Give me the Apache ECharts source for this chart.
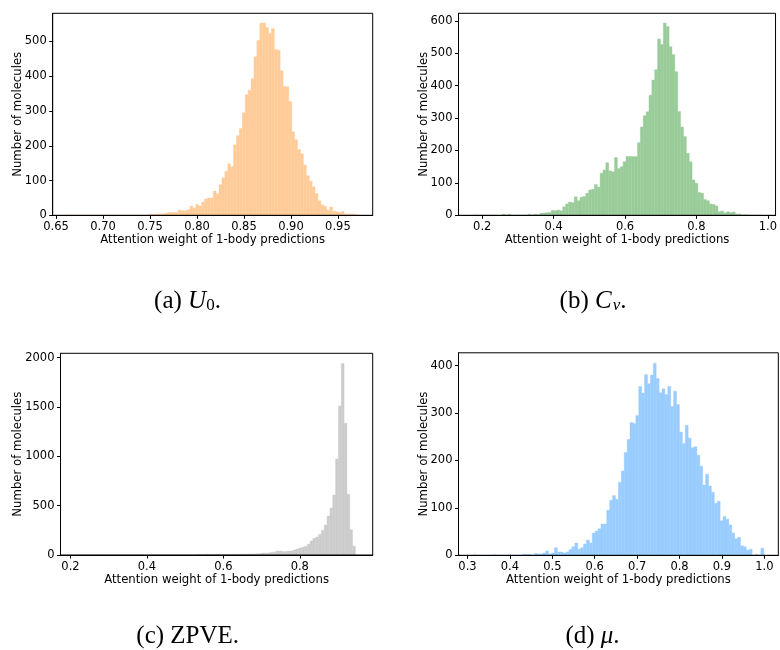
<!DOCTYPE html>
<html>
<head>
<meta charset="utf-8">
<script src="https://cdn.jsdelivr.net/npm/echarts@6/dist/echarts.min.js"></script>
<style>
  html, body { margin: 0; padding: 0; background: #fff; }
  #chart { width: 780px; height: 650px; }
</style>
</head>
<body>
<div id="chart"></div>
<script>
// Histogram counts (100 equal-width bins per panel) of the attention weight
// given to the 1-body predictions, one panel per target property.

// (a) U0
const binStartU0 = 0.6625;
const binWidthU0 = 0.003096;
const countsU0 = [
  1, 0, 0, 0, 0, 0, 0, 0, 0, 0,
  0, 0, 1, 0, 0, 0, 0, 0, 0, 0,
  1, 0, 0, 0, 0, 1, 0, 0, 3, 3,
  4, 4, 4, 5, 7, 8, 8, 9, 15, 13,
  13, 16, 27, 21, 31, 27, 38, 47, 50, 50,
  70, 62, 88, 108, 126, 148, 140, 203, 229, 250,
  295, 347, 360, 393, 456, 503, 553, 553, 540, 523,
  537, 477, 475, 416, 370, 370, 327, 240, 217, 189,
  177, 145, 114, 98, 82, 63, 42, 30, 25, 15,
  24, 12, 10, 8, 11, 4, 4, 4, 3, 1
];

// (b) Cv
const binStartCv = 0.176;
const binWidthCv = 0.00805;
const countsCv = [
  1, 0, 0, 0, 0, 0, 0, 0, 0, 0,
  3, 0, 3, 0, 0, 1, 0, 0, 1, 3,
  1, 3, 2, 6, 7, 8, 9, 15, 14, 16,
  14, 26, 35, 41, 39, 57, 45, 56, 58, 68,
  78, 80, 95, 87, 130, 140, 162, 137, 134, 178,
  144, 150, 165, 181, 181, 181, 181, 224, 272, 307,
  319, 370, 417, 449, 544, 527, 593, 582, 520, 496,
  443, 320, 272, 243, 191, 165, 109, 99, 70, 68,
  49, 45, 35, 33, 29, 11, 13, 7, 11, 9,
  10, 4, 4, 1, 2, 1, 0, 0, 0, 1
];

// (c) ZPVE
const binStartZPVE = 0.2104;
const binWidthZPVE = 0.007427;
const countsZPVE = [
  1, 0, 0, 0, 0, 0, 0, 0, 0, 0,
  0, 0, 0, 0, 0, 0, 0, 0, 0, 0,
  0, 0, 1, 0, 0, 0, 1, 0, 0, 0,
  1, 0, 0, 1, 0, 0, 1, 0, 2, 0,
  1, 2, 1, 6, 5, 3, 7, 6, 7, 6,
  7, 4, 8, 7, 8, 7, 8, 8, 10, 10,
  9, 10, 11, 10, 13, 14, 20, 19, 21, 27,
  29, 40, 40, 35, 36, 40, 41, 50, 60, 71,
  79, 88, 108, 142, 169, 182, 209, 250, 304, 395,
  476, 608, 973, 1510, 1940, 1334, 615, 257, 91, 1
];

// (d) mu
const binStartMu = 0.3131;
const binWidthMu = 0.006855;
const countsMu = [
  1, 0, 0, 0, 0, 0, 0, 1, 0, 0,
  0, 0, 1, 0, 0, 0, 0, 2, 2, 2,
  0, 4, 3, 3, 5, 9, 3, 5, 16, 7,
  7, 5, 7, 12, 18, 26, 13, 16, 24, 32,
  26, 47, 51, 56, 66, 66, 95, 116, 126, 118,
  154, 178, 217, 244, 280, 278, 295, 356, 342, 381,
  362, 380, 405, 373, 343, 351, 339, 356, 314, 346,
  318, 260, 236, 274, 247, 227, 229, 211, 188, 148,
  171, 146, 133, 110, 114, 73, 82, 76, 64, 47,
  35, 38, 20, 18, 11, 13, 0, 2, 0, 15
];

// Tick labels
const xTicksU0 = [0.65, 0.70, 0.75, 0.80, 0.85, 0.90, 0.95];
const yTicksU0 = [0, 100, 200, 300, 400, 500];
const xTicksCv = [0.2, 0.4, 0.6, 0.8, 1.0];
const yTicksCv = [0, 100, 200, 300, 400, 500, 600];
const xTicksZPVE = [0.2, 0.4, 0.6, 0.8];
const yTicksZPVE = [0, 500, 1000, 1500, 2000];
const xTicksMu = [0.3, 0.4, 0.5, 0.6, 0.7, 0.8, 0.9, 1.0];
const yTicksMu = [0, 100, 200, 300, 400];

const xTitle = 'Attention weight of 1-body predictions';
const yTitle = 'Number of molecules';

const FONT = 'DejaVu Sans';
const SERIF = 'Liberation Serif';
const TICK_SIZE = 11.5;

const panels = [
  { counts: countsU0, start: binStartU0, width: binWidthU0, color: '#ffcc99',
    xTicks: xTicksU0, yTicks: yTicksU0, xMin: 0.6465, xMax: 0.987, yMax: 581, digits: 2,
    grid: { left: 52.7, top: 13.3, width: 320, height: 202 }, yNameGap: 29 },
  { counts: countsCv, start: binStartCv, width: binWidthCv, color: '#99cc99',
    xTicks: xTicksCv, yTicks: yTicksCv, xMin: 0.1336, xMax: 1.0215, yMax: 623, digits: 1,
    grid: { left: 458.5, top: 13.3, width: 318.2, height: 202 }, yNameGap: 29 },
  { counts: countsZPVE, start: binStartZPVE, width: binWidthZPVE, color: '#cccccc',
    xTicks: xTicksZPVE, yTicks: yTicksZPVE, xMin: 0.1738, xMax: 0.9908, yMax: 2044, digits: 1,
    grid: { left: 60.5, top: 353.3, width: 312.2, height: 201.7 }, yNameGap: 36.5 },
  { counts: countsMu, start: binStartMu, width: binWidthMu, color: '#99ccff',
    xTicks: xTicksMu, yTicks: yTicksMu, xMin: 0.2788, xMax: 1.0329, yMax: 427, digits: 1,
    grid: { left: 458.5, top: 352.8, width: 319.8, height: 202.5 }, yNameGap: 29 }
];

function histRenderer(color) {
  return function (params, api) {
    const topLeft = api.coord([api.value(0), api.value(2)]);
    const bottomRight = api.coord([api.value(1), 0]);
    return {
      type: 'rect',
      shape: {
        x: topLeft[0],
        y: topLeft[1],
        width: bottomRight[0] - topLeft[0],
        height: bottomRight[1] - topLeft[1]
      },
      style: { fill: color, stroke: color, lineWidth: 0.4 }
    };
  };
}

const grids = [], xAxes = [], yAxes = [], series = [];
panels.forEach((p, k) => {
  grids.push(Object.assign({
    show: true, borderColor: '#000', borderWidth: 1, backgroundColor: 'transparent', z: 5
  }, p.grid));
  xAxes.push({
    type: 'value', gridIndex: k, min: p.xMin, max: p.xMax, z: 5,
    splitLine: { show: false },
    axisLine: { show: true, onZero: false, lineStyle: { color: '#000', width: 1 } },
    axisTick: { show: true, length: 3.5, lineStyle: { color: '#000', width: 1 }, customValues: p.xTicks },
    axisLabel: {
      customValues: p.xTicks, margin: 6, color: '#000', fontFamily: FONT, fontSize: TICK_SIZE,
      formatter: v => v.toFixed(p.digits)
    },
    name: xTitle, nameLocation: 'middle', nameGap: 19, nameMoveOverlap: false,
    nameTextStyle: { color: '#000', fontFamily: FONT, fontSize: 11.7 }
  });
  yAxes.push({
    type: 'value', gridIndex: k, min: 0, max: p.yMax, z: 5,
    splitLine: { show: false },
    axisLine: { show: true, lineStyle: { color: '#000', width: 1 } },
    axisTick: { show: true, length: 3.5, lineStyle: { color: '#000', width: 1 }, customValues: p.yTicks },
    axisLabel: {
      customValues: p.yTicks, margin: 6, color: '#000', fontFamily: FONT, fontSize: TICK_SIZE,
      formatter: v => String(Math.round(v))
    },
    name: yTitle, nameLocation: 'middle', nameGap: p.yNameGap, nameMoveOverlap: false,
    nameTextStyle: { color: '#000', fontFamily: FONT, fontSize: 11.7 }
  });
  series.push({
    type: 'custom', xAxisIndex: k, yAxisIndex: k, z: 2, clip: true, silent: true,
    renderItem: histRenderer(p.color),
    encode: { x: [0, 1], y: 2 },
    data: p.counts.map((c, i) => [p.start + i * p.width, p.start + (i + 1) * p.width, c])
  });
});

// Sub-figure captions (subscripts are pushed down with top padding)
const capBase = { fontFamily: SERIF, fontSize: 25, fill: '#000' };
const capRich = {
  r: Object.assign({}, capBase),
  i: Object.assign({}, capBase, { fontStyle: 'italic' }),
  s: Object.assign({}, capBase, { fontSize: 17, padding: [9, 0, 0, 0] }),
  si: Object.assign({}, capBase, { fontSize: 17, fontStyle: 'italic', padding: [9, 0, 0, 1] })
};
const captions = [
  { text: '{r|(a) }{i|U}{s|0}{r|.}', x: 187.5, y: 301 },
  { text: '{r|(b) }{i|C}{si|v}{r|.}', x: 593, y: 301 },
  { text: '{r|(c) ZPVE.}', x: 187.7, y: 636 },
  { text: '{r|(d) }{i|μ}{r|.}', x: 592.5, y: 636 }
];

const chart = echarts.init(document.getElementById('chart'), null, { renderer: 'canvas' });
chart.setOption({
  animation: false,
  backgroundColor: '#fff',
  grid: grids,
  xAxis: xAxes,
  yAxis: yAxes,
  series: series,
  graphic: captions.map(c => ({
    type: 'text', x: c.x, y: c.y, silent: true,
    style: {
      text: c.text, rich: capRich, align: 'center', verticalAlign: 'middle',
      fontFamily: SERIF, fontSize: 25, fill: '#000'
    }
  }))
});
</script>
</body>
</html>
